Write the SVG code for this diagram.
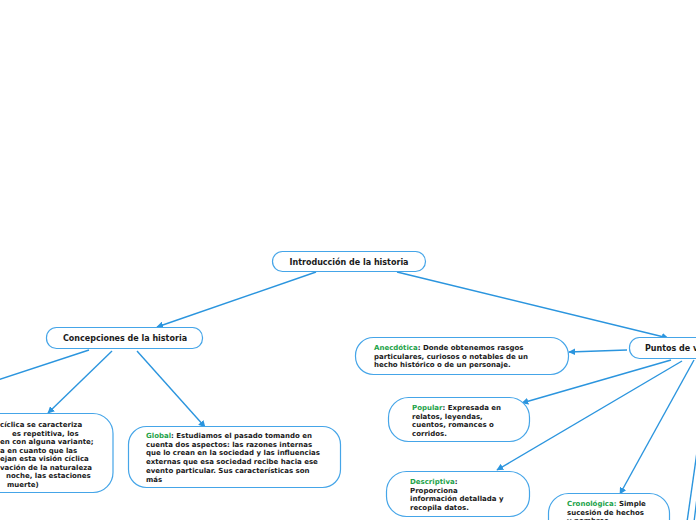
<svg xmlns="http://www.w3.org/2000/svg" width="696" height="520" viewBox="0 0 696 520">
<defs>
<marker id="ah" viewBox="0 0 10 10" refX="9" refY="5" markerWidth="5" markerHeight="5" orient="auto" markerUnits="strokeWidth">
<path d="M0,0 L10,5 L0,10 z" fill="#2b95de"/>
</marker>
<style>
.box{fill:#ffffff;stroke:#45a5e8;stroke-width:1.2}
.ttl{font-family:"DejaVu Sans",Verdana,sans-serif;font-weight:bold;font-size:8px;fill:#1a1a1a}
.txt{font-family:"DejaVu Sans",Verdana,sans-serif;font-weight:bold;font-size:7px;fill:#1a1a1a}
.g{fill:#22a249}
.ln{fill:none;stroke:#2b95de;stroke-width:1.4}
.arr{marker-end:url(#ah)}
</style>
</defs>
<rect width="696" height="520" fill="#ffffff"/>
<g id="connectors">
<line class="ln arr" x1="316" y1="272" x2="157" y2="327"/>
<line class="ln arr" x1="397" y1="272" x2="668" y2="338"/>
<line class="ln" x1="89" y1="350" x2="-5" y2="381"/>
<line class="ln arr" x1="112" y1="351" x2="48" y2="413"/>
<line class="ln arr" x1="137" y1="351" x2="205" y2="427"/>
<line class="ln arr" x1="627" y1="350" x2="569" y2="352"/>
<line class="ln arr" x1="671" y1="360" x2="522" y2="403"/>
<line class="ln arr" x1="682" y1="361" x2="497" y2="470"/>
<line class="ln arr" x1="694" y1="360" x2="620" y2="494"/>
<line class="ln" x1="697" y1="452" x2="687" y2="522"/>
<line class="ln" x1="697" y1="498" x2="694" y2="522"/>
</g>
<g id="root">
<rect class="box" x="272.5" y="251.5" width="153" height="20" rx="10"/>
<text class="ttl" x="349" y="265" text-anchor="middle">Introducción de la historia</text>
</g>
<g id="concepciones">
<rect class="box" x="46.5" y="327.5" width="156" height="21" rx="10"/>
<text class="ttl" x="125" y="341" text-anchor="middle">Concepciones de la historia</text>
</g>
<g id="ciclica">
<rect class="box" x="-100" y="413.5" width="213" height="79" rx="20"/>
<text class="txt" x="0" y="427">cíclica se caracteriza</text>
<text class="txt" x="12" y="435.5">es repetitiva, los</text>
<text class="txt" x="0" y="444">en con alguna variante;</text>
<text class="txt" x="0" y="452.5">a en cuanto que las</text>
<text class="txt" x="0" y="461">ejan esta visión cíclica</text>
<text class="txt" x="0" y="469.5">vación de la naturaleza</text>
<text class="txt" x="6" y="478">noche, las estaciones</text>
<text class="txt" x="7" y="486.5">muerte)</text>
</g>
<g id="global">
<rect class="box" x="128.5" y="426.5" width="212" height="61" rx="18"/>
<text class="txt" x="146" y="438"><tspan class="g">Global</tspan>: Estudiamos el pasado tomando en</text>
<text class="txt" x="146" y="446.7">cuenta dos aspectos: las razones internas</text>
<text class="txt" x="146" y="455.4">que lo crean en la sociedad y las influencias</text>
<text class="txt" x="146" y="464.1">externas que esa sociedad recibe hacia ese</text>
<text class="txt" x="146" y="472.8">evento particular. Sus características son</text>
<text class="txt" x="146" y="481.5">más</text>
</g>
<g id="puntos">
<rect class="box" x="629.5" y="337.5" width="110" height="21" rx="10"/>
<text class="ttl" x="645" y="351">Puntos de vista</text>
</g>
<g id="anecdotica">
<rect class="box" x="355.5" y="337.5" width="213" height="37" rx="18"/>
<text class="txt" x="374" y="350"><tspan class="g">Anecdótica</tspan>: Donde obtenemos rasgos</text>
<text class="txt" x="374" y="358.5">particulares, curiosos o notables de un</text>
<text class="txt" x="374" y="367">hecho histórico o de un personaje.</text>
</g>
<g id="popular">
<rect class="box" x="388.5" y="397.5" width="141" height="44" rx="20"/>
<text class="txt" x="412" y="410"><tspan class="g">Popular</tspan>: Expresada en</text>
<text class="txt" x="412" y="418.5">relatos, leyendas,</text>
<text class="txt" x="412" y="427">cuentos, romances o</text>
<text class="txt" x="412" y="435.5">corridos.</text>
</g>
<g id="descriptiva">
<rect class="box" x="386.5" y="471.5" width="143" height="45" rx="20"/>
<text class="txt" x="410" y="484"><tspan class="g">Descriptiva</tspan>:</text>
<text class="txt" x="410" y="492.5">Proporciona</text>
<text class="txt" x="410" y="501">información detallada y</text>
<text class="txt" x="410" y="509.5">recopila datos.</text>
</g>
<g id="cronologica">
<rect class="box" x="548.5" y="493.5" width="121" height="50" rx="20"/>
<text class="txt" x="567" y="506"><tspan class="g">Cronológica:</tspan> Simple</text>
<text class="txt" x="567" y="514.5">sucesión de hechos</text>
<text class="txt" x="567" y="523">y nombres</text>
</g>
</svg>
